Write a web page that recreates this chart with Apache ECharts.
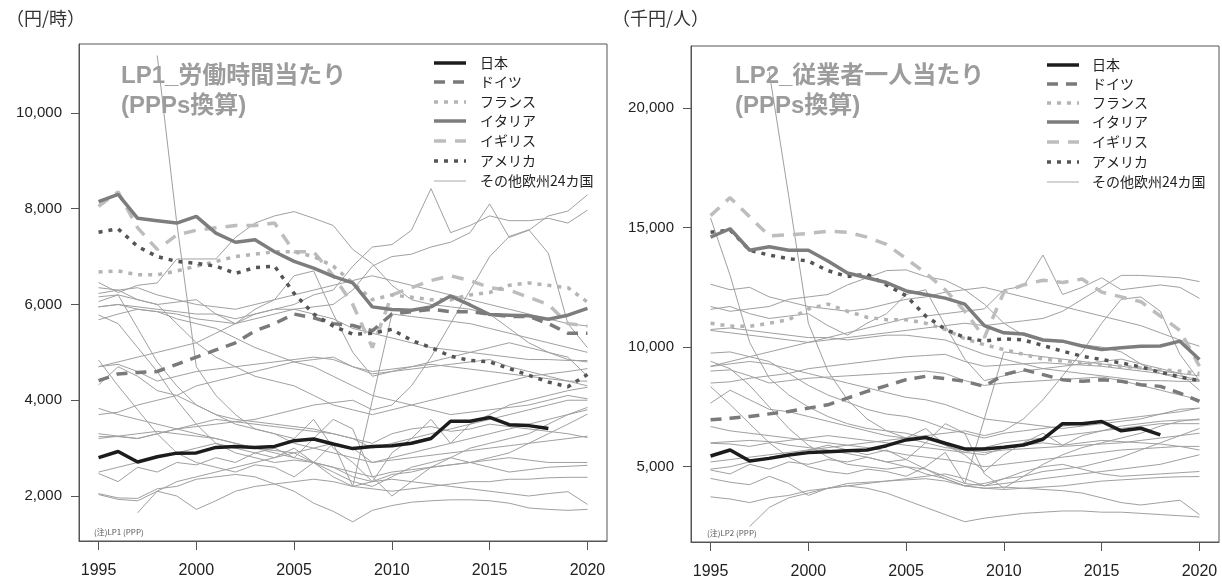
<!DOCTYPE html>
<html><head><meta charset="utf-8">
<script src="https://cdn.jsdelivr.net/npm/echarts@6/dist/echarts.min.js"></script>
<style>html,body{margin:0;padding:0;background:#fff}#c{width:1222px;height:581px}</style>
</head><body><div id="c"></div>
<script>
// ---------- DATA ----------
const years = [1995,1996,1997,1998,1999,2000,2001,2002,2003,2004,2005,2006,2007,2008,2009,2010,2011,2012,2013,2014,2015,2016,2017,2018,2019,2020];
const xTicks = [1995,2000,2005,2010,2015,2020];
const yTicksLP1 = [2000,4000,6000,8000,10000];
const yTicksLP2 = [5000,10000,15000,20000];
const names = ['日本','ドイツ','フランス','イタリア','イギリス','アメリカ','その他欧州24カ国'];

// LP1 (円/時)
const lp1Japan   = [2800,2930,2710,2820,2895,2900,3015,3035,3015,3035,3155,3190,3085,2990,3035,3050,3100,3200,3560,3560,3640,3490,3470,3410,null,null];
const lp1Germany = [4410,4550,4580,4600,4750,4900,5050,5200,5450,5600,5800,5720,5600,5560,5450,5800,5850,5900,5850,5850,5800,5750,5750,5600,5400,5400];
const lp1France  = [6680,6700,6620,6620,6700,6800,6900,7000,7050,7100,7100,7000,6800,6450,6100,6200,6150,6100,6100,6200,6250,6400,6450,6400,6350,6050];
const lp1Italy   = [8150,8300,7800,7750,7700,7840,7490,7300,7350,7100,6900,6760,6585,6450,5950,5895,5880,5950,6175,5990,5790,5776,5762,5690,5776,5920];
const lp1UK      = [8050,8350,7600,7150,7450,7550,7600,7650,7650,7700,7100,7100,6600,6000,5100,6200,6350,6500,6600,6500,6350,6300,6150,6000,5600,5550];
const lp1USA     = [7510,7580,7210,7000,6900,6860,6800,6650,6770,6800,6230,5800,5550,5380,5400,5480,5250,5100,4920,4830,4800,4660,4520,4380,4280,4540];
const lp1Others = [
  [4700,4800,4900,5000,5100,5200,5400,5600,5800,5900,6000,6200,6300,6800,7200,7250,7550,8420,7500,7650,7850,7750,7750,7800,7700,7970],
  [5950,6000,5900,5850,5800,5700,5650,5600,5700,5800,5900,5950,6000,6300,6800,7000,7050,7200,7300,7500,8100,7400,7550,7850,7950,8290],
  [6460,6250,6400,6450,6950,6950,6950,7400,7700,7850,7940,7800,7650,7150,6850,6400,6100,6000,5950,5900,5800,5500,5200,5000,4850,4800],
  [3300,3250,3200,3300,3400,3450,3500,3550,3600,3700,3800,3900,3950,4000,3800,3900,4300,4900,5600,6300,7000,7420,7560,7070,5600,5100],
  [null,null,null,11200,7700,4700,4100,3700,3400,3300,3100,3000,2900,2800,2700,2750,2800,2850,2900,2950,3000,3050,3100,3150,3200,3250],
  [null,null,1650,2100,2300,2400,2500,2600,2700,2800,2900,3000,3100,3000,2700,2800,2900,3000,3100,3200,3300,3400,3500,3600,3700,3800],
  [2050,1960,1950,2150,2200,2350,2400,2450,2400,2250,2100,1850,1680,1460,1700,1800,1870,1900,1920,1920,1900,1850,1750,1720,1700,1720],
  [2030,1930,1900,2100,2000,1720,1900,2100,2200,2250,2300,2350,2300,2200,2150,2100,2150,2200,2250,2300,2300,2350,2350,2380,2390,2390],
  [3200,3250,3300,3350,3300,3250,3200,3100,3000,2950,2900,2700,2600,2400,2300,2350,2300,2250,2200,2150,2100,2050,2000,2050,2090,1825],
  [2470,2300,2600,2500,2700,2650,2800,2700,2900,2800,3000,2700,2500,2300,2200,2400,2600,2700,2800,2700,2600,2500,2550,2600,2620,2640],
  [3240,3240,3200,3300,3400,3500,3600,3550,3500,3450,3400,3350,3300,3200,3100,3300,3400,3450,3350,3400,3500,3450,3400,3350,3300,3220],
  [3830,3700,3600,3500,3400,3300,3200,3100,3000,2900,2800,2700,2600,2500,2400,2500,2550,2600,2650,2700,2750,2800,2750,2700,2700,2700],
  [4320,4700,4500,4200,4100,3900,3700,3500,3400,3300,3200,3600,3000,2700,2300,2900,3200,3600,3100,3500,3700,3900,4000,4100,4200,4270],
  [4840,4300,3800,3300,2900,2700,2600,2500,2650,2600,2400,2700,3100,2200,4000,5800,5750,5700,5650,5600,5500,5400,5300,5200,5100,5000],
  [5680,5800,5900,5850,5700,5600,5500,5300,5100,4950,4800,4700,4500,4300,4100,4000,3900,3800,3700,3750,3800,3850,3900,4000,4100,4030],
  [5780,5600,5100,4600,4000,3500,3100,2900,2800,2700,2750,2700,2400,2200,2300,2450,2500,2600,2650,2700,2800,2900,3100,3300,3500,3710],
  [5950,6000,5950,5900,5850,5800,5800,5700,5800,5900,5900,5800,5700,5500,5400,5300,5200,5100,5050,5000,4950,4900,4850,4850,4830,4830],
  [6060,6200,5500,4800,4300,3900,3700,3600,3550,3500,3450,3400,3300,3200,3000,3100,3200,3300,3400,3500,3600,3700,3800,3900,4000,4000],
  [6160,6200,6100,6000,5600,5200,4900,4700,4500,4400,4300,4100,3900,3800,3700,3800,3900,4000,4100,4200,4300,4400,4500,4550,4600,4660],
  [6230,6300,6100,6000,6050,6100,5800,5600,5900,6100,6600,6700,5800,5000,4500,4600,4700,4800,4900,5000,5100,5200,5100,5000,4900,4500],
  [6350,6300,6350,6200,6100,6000,5950,5900,6000,6100,6200,6300,6400,6500,6600,6500,6400,6300,6200,6100,6000,5900,5800,5700,5600,5550],
  [3700,3750,3900,4000,4100,4300,4400,4500,4600,4700,4800,4850,4900,4700,4600,4650,4700,4750,4700,4650,4600,4550,4500,4450,4400,4400],
  [4700,4750,4600,4400,4500,4600,4650,4700,4750,4800,4850,4900,4850,4700,4550,4600,4650,4700,4750,4800,4850,4700,4600,4500,4400,4300],
  [2500,2600,2700,2800,2900,3000,3100,3000,2900,3000,2800,3200,3600,3400,2400,2000,2300,2600,2800,3000,3100,3200,3300,3500,3700,3850]
];

// LP2 (千円/人)
const lp2Japan   = [5450,5700,5240,5350,5490,5590,5630,5670,5700,5880,6120,6220,5980,5745,5745,5810,5910,6150,6800,6800,6890,6500,6610,6330,null,null];
const lp2Germany = [6960,7030,7100,7210,7310,7450,7590,7870,8150,8390,8640,8780,8680,8570,8360,8850,9060,8850,8640,8570,8640,8570,8430,8360,8080,7730];
const lp2France  = [11000,10880,10870,11000,11150,11600,11800,11500,11250,11150,11150,11000,10740,10350,10100,9900,9700,9500,9420,9350,9270,9200,9130,9060,9000,8900];
const lp2Italy   = [14600,14950,14050,14200,14050,14050,13600,13100,12900,12700,12350,12200,12050,11800,10900,10600,10550,10300,10250,10050,9900,9970,10040,10050,10250,9480];
const lp2UK      = [15500,16250,15450,14650,14700,14750,14850,14800,14600,14300,13700,13100,12400,11500,10400,12300,12600,12800,12700,12850,12300,12100,11900,11300,10700,9200];
const lp2USA     = [14800,14900,14050,13850,13700,13600,13200,12950,13050,12600,12150,11300,10750,10400,10250,10350,10300,10070,9830,9620,9480,9340,9170,8950,8750,8600];
const lp2Others = [
  [9200,9400,9600,9800,10000,10200,10400,10600,10800,11000,11200,11300,11400,11500,11600,12400,12550,13850,12200,12500,12900,12400,12500,12600,12500,12040],
  [10700,10600,10500,10400,10300,10200,10300,10400,10500,10600,10700,10800,10900,11000,10900,11000,11100,11200,11500,12000,12500,13000,13000,12950,12900,12740],
  [11700,11500,11600,11700,12000,12100,12200,12600,12900,13200,13230,12950,12800,12400,11800,11000,10500,10300,10200,10100,10000,9800,9300,8900,8700,8600],
  [5200,5300,5400,5500,5600,5700,5800,5900,6000,6100,6200,6300,6400,6500,6300,6500,7000,7800,8800,9800,11000,12000,12100,11500,9700,8600],
  [null,null,null,21500,16300,11000,9000,7800,7000,6500,6200,6000,5800,5700,5600,5700,5750,5800,5850,5900,5950,6000,6100,6200,6300,6400],
  [null,null,2500,3300,3700,3900,4100,4200,4300,4400,4500,4600,4700,4500,4200,4300,4400,4500,4600,4700,4800,4900,5000,5100,5300,5500],
  [3740,3650,3500,3700,3800,4000,4100,4200,4100,3900,3600,3300,3000,2700,2850,2950,3050,3100,3150,3150,3100,3100,3050,3000,2950,2900],
  [4510,4350,4250,4600,4300,3800,4100,4300,4350,4400,4450,4500,4400,4200,4100,4050,4100,4150,4200,4300,4400,4450,4500,4550,4580,4590],
  [6000,6050,6100,6050,5900,5800,5700,5550,5400,5200,5000,4700,4500,4200,4100,4150,4100,4050,4000,3900,3700,3500,3400,3500,3600,3000],
  [4860,4700,5100,4900,5200,5100,5300,5200,5400,5200,5300,4900,4600,4300,4200,4500,4800,5000,5100,4900,4700,4600,4650,4700,4750,4800],
  [5980,5950,5850,6000,6100,6200,6300,6200,6100,6000,5900,5800,5700,5600,5500,5800,5900,6000,5900,6000,6100,6050,6000,5950,5850,5700],
  [6680,6500,6400,6300,6200,6100,6000,5900,5800,5650,5500,5400,5300,5200,5000,5100,5200,5300,5400,5500,5600,5700,5750,5800,5850,5850],
  [7660,8200,7800,7400,7300,7100,6900,6700,6500,6300,6200,6600,5900,5500,4800,5500,6000,6400,5900,6300,6500,6700,6800,6900,6950,6960],
  [8350,7600,6800,6000,5400,5000,4800,4700,4900,4800,4600,5000,5600,4300,7000,9800,9700,9600,9500,9400,9300,9200,9100,9000,8900,8800],
  [9190,9300,9400,9300,9100,8900,8700,8500,8300,8100,7900,7800,7600,7300,7000,6900,6800,6700,6600,6700,6800,6900,7000,7200,7400,7450],
  [9410,9100,8400,7500,6600,5900,5400,5100,5000,4900,5000,4900,4500,4200,4300,4500,4600,4800,4900,5000,5200,5400,5700,6000,6300,6600],
  [10740,10800,10700,10600,10500,10400,10400,10300,10400,10500,10500,10400,10300,10000,9700,9500,9300,9100,9000,8900,8800,8700,8600,8600,8570,8570],
  [15400,13000,10200,8700,8000,7500,7100,6800,6600,6500,6400,6200,5900,5600,5800,6000,6100,6200,6300,6400,6500,6600,6700,6800,6800,6800],
  [9750,9800,9600,9400,8900,8400,8000,7700,7400,7200,7100,6900,6600,6400,6200,6400,6500,6600,6700,6800,6900,7000,7100,7200,7300,7450],
  [11580,11700,11400,11200,11300,11400,10900,10500,11000,11400,12200,12400,10900,9500,8600,8800,9000,9100,9200,9300,9400,9500,9300,9100,8900,8200],
  [12630,12400,12500,12100,11900,11700,11600,11500,11600,11800,12000,12100,12300,12400,12500,12300,12100,11900,11700,11500,11300,11100,10900,10600,10300,10040],
  [8500,8550,8700,8800,8900,9100,9200,9300,9400,9500,9600,9650,9700,9400,9200,9250,9300,9350,9300,9250,9200,9100,9000,8900,8800,8630],
  [9000,9050,8800,8500,8600,8700,8750,8800,8850,8900,8950,9000,8900,8600,8400,8500,8550,8600,8650,8700,8750,8600,8400,8200,8000,7800],
  [4900,5000,5200,5400,5500,5700,5900,5700,5500,5700,5300,6000,6800,6400,4700,4100,4600,5100,5500,5800,6000,6200,6400,6700,6900,7000]
];

// ---------- STYLES ----------
const NUMFONT = "'Liberation Sans', Arial, sans-serif";
const JPFONT = "'Noto Sans CJK JP', sans-serif";
const mainStyles = [
  {color:'#1c1c1c', type:'solid', width:3.5},          // 日本
  {color:'#7a7a7a', type:[11,8], width:3.5},           // ドイツ
  {color:'#b4b4b4', type:[4,6], width:3.5},            // フランス
  {color:'#7d7d7d', type:'solid', width:3.5},          // イタリア
  {color:'#bdbdbd', type:[12,9], width:3.5},           // イギリス
  {color:'#555555', type:[4,6], width:3.5},            // アメリカ
  {color:'#a8a8a8', type:'solid', width:1}             // その他
];

function pairs(vals){ return years.map((y,i)=>[y, vals[i]==null ? null : vals[i]]); }

function panelSeries(gi, main, others){
  const s = [];
  others.forEach(o=>{
    s.push({type:'line', xAxisIndex:gi, yAxisIndex:gi, data:pairs(o), symbol:'none', silent:true, z:2,
      lineStyle:{color:'#a0a0a0', width:1}});
  });
  const order = [4,2,1,5,3,0];
  order.forEach(k=>{
    const st = mainStyles[k];
    s.push({type:'line', name:names[k], xAxisIndex:gi, yAxisIndex:gi, data:pairs(main[k]), symbol:'none', z:3+ (k===0?5:0),
      lineStyle:{color:st.color, type:st.type, width:st.width, cap:'butt'}});
  });
  return s;
}

const grids = [
  {left:79, top:44, width:528, height:497},
  {left:691, top:46, width:528, height:496}
];
const yRanges = [[1060,11440],[1853,22591]];
const yTicks = [yTicksLP1, yTicksLP2];

const option = {
  animation:false,
  backgroundColor:'#fff',
  grid: grids.map(g=>Object.assign({show:true, borderColor:'#555', borderWidth:1, backgroundColor:'transparent'}, g)),
  xAxis: [0,1].map(i=>({
    type:'value', gridIndex:i, min:1994, max:2021,
    axisLine:{show:true, lineStyle:{color:'#555'}},
    axisTick:{show:true, customValues:xTicks, length:9, lineStyle:{color:'#555'}},
    axisLabel:{customValues:xTicks, color:'#222', fontFamily:NUMFONT, fontSize:16, margin:22,
      formatter:v=>String(v)},
    splitLine:{show:false}
  })),
  yAxis: [0,1].map(i=>({
    type:'value', gridIndex:i, min:yRanges[i][0], max:yRanges[i][1],
    axisLine:{show:true, lineStyle:{color:'#555'}},
    axisTick:{show:true, customValues:yTicks[i], length:8, lineStyle:{color:'#555'}},
    axisLabel:{customValues:yTicks[i], color:'#222', fontFamily:NUMFONT, fontSize:15, margin:17,
      formatter:v=>Number(v).toLocaleString('en-US')},
    splitLine:{show:false}
  })),
  series: panelSeries(0,[lp1Japan,lp1Germany,lp1France,lp1Italy,lp1UK,lp1USA],lp1Others)
    .concat(panelSeries(1,[lp2Japan,lp2Germany,lp2France,lp2Italy,lp2UK,lp2USA],lp2Others)),
  graphic: []
};

// unit labels, titles, notes
const G = option.graphic;
G.push({type:'text', left:6, top:9, style:{text:'（円/時）', font:"18px "+JPFONT, fill:'#333'}});
G.push({type:'text', left:612, top:9, style:{text:'（千円/人）', font:"18px "+JPFONT, fill:'#333'}});
const titleFont = "bold 24px 'Liberation Sans','Noto Sans CJK JP',sans-serif";
G.push({type:'text', left:121, top:64, style:{text:'LP1_労働時間当たり', font:titleFont, fill:'#9c9c9c'}});
G.push({type:'text', left:121, top:94, style:{text:'(PPPs換算)', font:titleFont, fill:'#9c9c9c'}});
G.push({type:'text', left:735, top:64, style:{text:'LP2_従業者一人当たり', font:titleFont, fill:'#9c9c9c'}});
G.push({type:'text', left:735, top:94, style:{text:'(PPPs換算)', font:titleFont, fill:'#9c9c9c'}});
G.push({type:'text', left:94, top:528, style:{text:'(注)LP1 (PPP)', font:"8px "+JPFONT, fill:'#555'}});
G.push({type:'text', left:707, top:529, style:{text:'(注)LP2 (PPP)', font:"8px "+JPFONT, fill:'#555'}});

// legends
function legend(x1, x2, tx, rows){
  rows.forEach((y,k)=>{
    const st = mainStyles[k];
    G.push({type:'line', shape:{x1:x1, y1:y, x2:x2, y2:y}, silent:true,
      style:{stroke:st.color, lineWidth:k===6?1:3.5, lineDash:Array.isArray(st.type)?st.type:null}});
    G.push({type:'text', x:tx, y:y, style:{text:names[k], font:"14px "+JPFONT, fill:'#222', textVerticalAlign:'middle'}});
  });
}
legend(434, 466, 480, [63,82,102,121,141,161,181]);
legend(1047, 1079, 1092, [65,84,103,122,142,162,182]);

const chart = echarts.init(document.getElementById('c'), null, {renderer:'canvas'});
chart.setOption(option);
</script></body></html>
